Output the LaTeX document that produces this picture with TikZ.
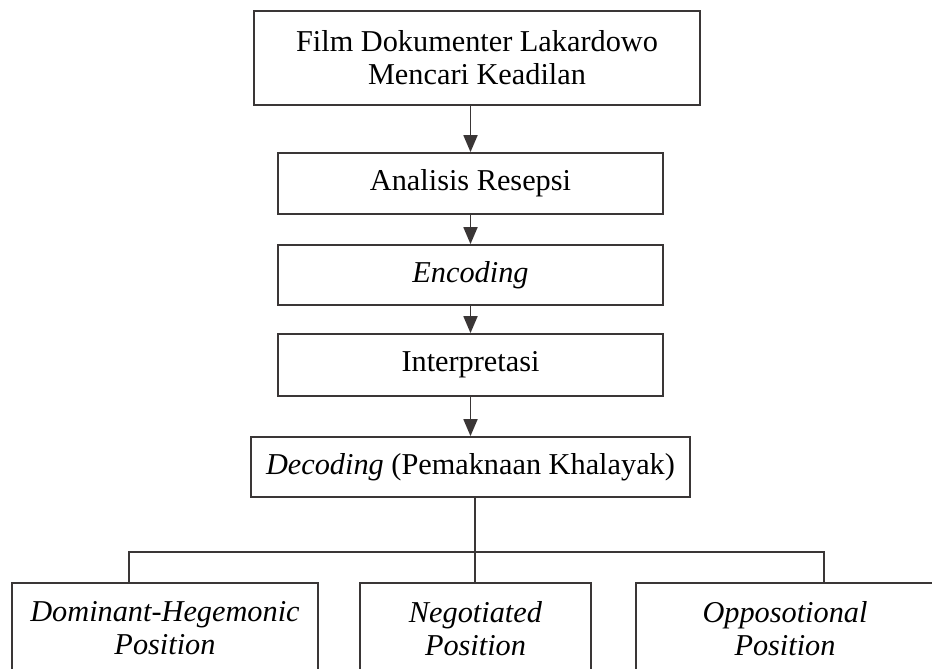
\documentclass[tikz,border=0pt]{standalone}
\usepackage{fontspec}
\setmainfont{Liberation Serif}
\usetikzlibrary{arrows.meta}
\definecolor{ln}{HTML}{3A3636}
\tikzset{
  box/.style={draw=ln, line width=1.8pt, inner sep=0pt, align=center,
    font=\fontsize{30.3}{33}\selectfont},
  posbox/.style={box, anchor=north, inner xsep=0pt, inner ysep=19pt},
  arr/.style={draw=ln, line width=1.8pt, -{Triangle[length=17pt,width=14pt]}},
  conn/.style={draw=ln, line width=1.8pt}
}
\begin{document}
\begin{tikzpicture}[x=1pt,y=-1pt]
\useasboundingbox (0,0) rectangle (932,669);
\clip (0,0) rectangle (932,669);
\node[box, minimum width=446pt, minimum height=94pt] (film) at (477,58)
  {Film Dokumenter Lakardowo\\Mencari Keadilan};
\node[box, minimum width=385pt, minimum height=61pt] (ana) at (470.5,183.5) {Analisis Resepsi};
\node[box, minimum width=385pt, minimum height=60pt] (enc) at (470.5,275) {\textit{Encoding}};
\node[box, minimum width=385pt, minimum height=62pt] (int) at (470.5,365) {Interpretasi};
\node[box, minimum width=439pt, minimum height=60pt] (dec) at (470.5,467)
  {\textit{Decoding} (Pemaknaan Khalayak)};
\node[posbox, minimum width=306pt] (dom) at (165,582) {\textit{Dominant-Hegemonic}\\\textit{Position}};
\node[posbox, minimum width=231pt] (neg) at (475.5,582) {\textit{Negotiated}\\\textit{Position}};
\node[posbox, minimum width=298pt] (opp) at (785,582) {\textit{Opposotional}\\\textit{Position}};
\draw[arr] (film.south -| ana.north) -- (ana.north);
\draw[arr] (ana.south) -- (enc.north);
\draw[arr] (enc.south) -- (int.north);
\draw[arr] (int.south) -- (dec.north);
\coordinate (hub) at (475,552);
\coordinate (jl) at (129,552);
\coordinate (jr) at (824,552);
\draw[conn] (dec.south -| hub) -- (hub |- neg.north);
\draw[conn] (jl |- dom.north) -- (jl) -- (jr) -- (jr |- opp.north);
\end{tikzpicture}
\end{document}
